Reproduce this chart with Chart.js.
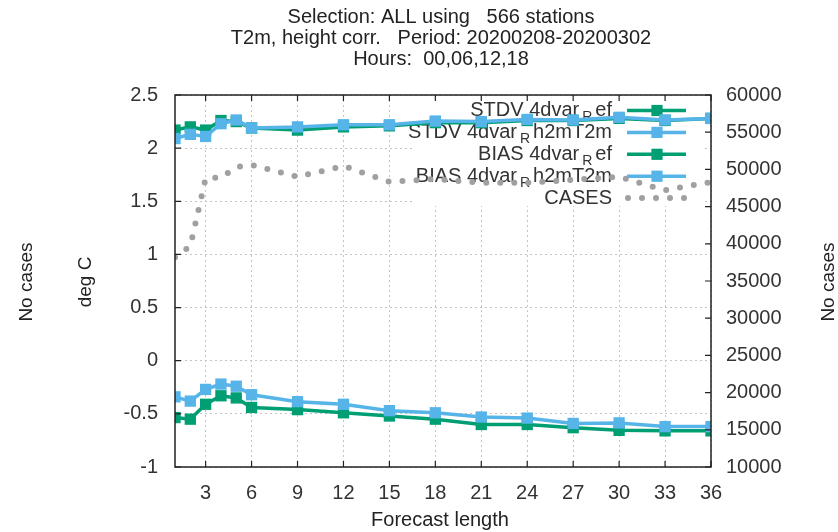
<!DOCTYPE html>
<html>
<head>
<meta charset="utf-8">
<title>T2m verification</title>
<script src="https://cdn.jsdelivr.net/npm/chart.js@4.4.1/dist/chart.umd.min.js"></script>
<style>
    html, body { margin: 0; padding: 0; background: #fff; }
    #chartBox { width: 838px; height: 532px; }
</style>
</head>
<body>
<div id="chartBox"><canvas id="verifChart" width="838" height="532"></canvas></div>
<script>
// Forecast lengths (hours) and the scores
const hours = [1, 2, 3, 4, 5, 6, 9, 12, 15, 18, 21, 24, 27, 30, 33, 36];
const stdvRef = [2.17, 2.20, 2.17, 2.26, 2.25, 2.19, 2.17, 2.20, 2.21, 2.24, 2.24, 2.26, 2.26, 2.28, 2.26, 2.28];
const stdvH2m = [2.09, 2.13, 2.11, 2.23, 2.265, 2.19, 2.20, 2.22, 2.22, 2.255, 2.25, 2.27, 2.265, 2.29, 2.265, 2.28];
const biasRef = [-0.535, -0.55, -0.41, -0.33, -0.35, -0.44, -0.46, -0.49, -0.52, -0.55, -0.60, -0.60, -0.63, -0.655, -0.66, -0.66];
const biasH2m = [-0.34, -0.38, -0.27, -0.22, -0.24, -0.32, -0.385, -0.41, -0.47, -0.49, -0.53, -0.54, -0.59, -0.585, -0.62, -0.62];
const cases = [38200, 39700, 48800, 48900, 50300, 50600, 49000, 50450, 48350, 48700, 48200, 48200, 48600, 49000, 47200, 48300];

const xTicks = [3, 6, 9, 12, 15, 18, 21, 24, 27, 30, 33, 36];
const yTicks = [-1, -0.5, 0, 0.5, 1, 1.5, 2, 2.5];
const y2Ticks = [10000, 15000, 20000, 25000, 30000, 35000, 40000, 45000, 50000, 55000, 60000];

const titleLines = ["Selection: ALL using   566 stations", "T2m, height corr.   Period: 20200208-20200302", "Hours:  00,06,12,18"];
// legend names: [before subscript, subscript, after subscript]
const legendNames = [
    ["STDV 4dvar", "R", "ef"],
    ["STDV 4dvar", "R", "h2mT2m"],
    ["BIAS 4dvar", "R", "ef"],
    ["BIAS 4dvar", "R", "h2mT2m"],
    ["CASES", "", ""]
];

const GREEN = "#009e73";
const BLUE = "#56b4e9";
const GREY = "#a0a0a0";
const FONT = "'Liberation Sans', Arial, sans-serif";

function pts( ys ) {
    return hours.map( ( h, i ) => ( { x: h, y: ys[i] } ) );
}

function lineSet( label, ys, color, order ) {
    return {
        label: label,
        data: pts( ys ),
        yAxisID: "y",
        borderColor: color,
        backgroundColor: color,
        borderWidth: 3.5,
        pointStyle: "rect",
        pointRadius: 8,
        pointBorderWidth: 0,
        tension: 0,
        order: order
    };
}

document.addEventListener( "DOMContentLoaded", function () {
    const canvas = document.getElementById( "verifChart" );
    const ctx = canvas.getContext( "2d" );

    // gnuplot-like decorations: key box, legend, frame, inward ticks, titles
    const gnuFrame = {
        id: "gnuFrame",
        beforeDatasetsDraw( chart ) {
            const c = chart.ctx;
            const area = chart.chartArea;
            c.save();
            c.fillStyle = "#fff";
            c.fillRect( 413, area.top + 6, area.right - 6 - 413, 105 );

            const colors = [GREEN, BLUE, GREEN, BLUE, GREY];
            legendNames.forEach( ( parts, i ) => {
                const y = 110.5 + i * 21.9;
                const textRight = 612;
                c.fillStyle = "#333";
                c.textBaseline = "middle";
                c.font = "20px " + FONT;
                const w0 = c.measureText( parts[0] ).width;
                const w2 = c.measureText( parts[2] ).width;
                c.font = "14px " + FONT;
                const w1 = parts[1] ? c.measureText( parts[1] ).width + 6 : 0;
                let x = textRight - w0 - w1 - w2;
                c.textAlign = "left";
                c.font = "20px " + FONT;
                c.fillText( parts[0], x, y );
                x += w0 + 3;
                if ( parts[1] ) {
                    c.font = "14px " + FONT;
                    c.fillText( parts[1], x, y + 7 );
                    x += w1 - 3;
                }
                c.font = "20px " + FONT;
                c.fillText( parts[2], x, y );

                if ( i < 4 ) {
                    c.strokeStyle = colors[i];
                    c.lineWidth = 3.5;
                    c.beginPath();
                    c.moveTo( 627, y );
                    c.lineTo( 686, y );
                    c.stroke();
                    c.fillStyle = colors[i];
                    c.fillRect( 657 - 5.6, y - 5.6, 11.2, 11.2 );
                } else {
                    c.fillStyle = GREY;
                    [628, 642, 656, 670, 684].forEach( px => {
                        c.beginPath();
                        c.arc( px, y, 3, 0, Math.PI * 2 );
                        c.fill();
                    } );
                }
            } );
            c.restore();
        },
        afterDraw( chart ) {
            const c = chart.ctx;
            const area = chart.chartArea;
            const xs = chart.scales.x;
            const ys = chart.scales.y;
            const y2s = chart.scales.y2;
            c.save();

            // frame
            c.strokeStyle = "#222";
            c.lineWidth = 1.5;
            c.strokeRect( area.left, area.top, area.right - area.left, area.bottom - area.top );

            // inward tick marks
            c.lineWidth = 1.2;
            c.beginPath();
            xTicks.forEach( v => {
                const px = xs.getPixelForValue( v );
                c.moveTo( px, area.bottom );
                c.lineTo( px, area.bottom - 6 );
                c.moveTo( px, area.top );
                c.lineTo( px, area.top + 6 );
            } );
            yTicks.forEach( v => {
                const py = ys.getPixelForValue( v );
                c.moveTo( area.left, py );
                c.lineTo( area.left + 6, py );
            } );
            y2Ticks.forEach( v => {
                const py = y2s.getPixelForValue( v );
                c.moveTo( area.right, py );
                c.lineTo( area.right - 6, py );
            } );
            c.stroke();

            // titles
            c.fillStyle = "#222";
            c.textAlign = "center";
            c.textBaseline = "middle";
            c.font = "20px " + FONT;
            const cx = ( area.left + area.right ) / 2;
            titleLines.forEach( ( t, i ) => c.fillText( t, cx - 2, 17 + i * 21 ) );
            c.fillText( "Forecast length", cx - 3, 520 );

            // axis titles (rotated)
            c.font = "19px " + FONT;
            [[27, "No cases"], [86, "deg C"], [829, "No cases"]].forEach( ( item ) => {
                c.save();
                c.translate( item[0], 282 );
                c.rotate( -Math.PI / 2 );
                c.fillText( item[1], 0, 0 );
                c.restore();
            } );
            c.restore();
        }
    };

    new Chart( ctx, {
        type: "line",
        data: {
            datasets: [
                lineSet( "STDV 4dvar_Ref", stdvRef, GREEN, 4 ),
                lineSet( "STDV 4dvar_Rh2mT2m", stdvH2m, BLUE, 2 ),
                lineSet( "BIAS 4dvar_Ref", biasRef, GREEN, 3 ),
                lineSet( "BIAS 4dvar_Rh2mT2m", biasH2m, BLUE, 1 ),
                {
                    label: "CASES",
                    data: pts( cases ),
                    yAxisID: "y2",
                    borderColor: GREY,
                    borderWidth: 6,
                    borderDash: [0, 14],
                    borderCapStyle: "round",
                    pointRadius: 0,
                    tension: 0,
                    order: 5
                }
            ]
        },
        options: {
            responsive: false,
            animation: false,
            layout: { padding: { top: 95, left: 0, right: 0, bottom: 0 } },
            plugins: {
                legend: { display: false },
                title: { display: false },
                tooltip: { enabled: false }
            },
            scales: {
                x: {
                    type: "linear",
                    min: 1,
                    max: 36,
                    afterBuildTicks: scale => { scale.ticks = xTicks.map( v => ( { value: v } ) ); },
                    afterFit: scale => { scale.height = 65; },
                    grid: { color: "#c4c4c4", drawTicks: false },
                    border: { display: false, dash: [2, 3] },
                    ticks: {
                        padding: 14,
                        color: "#333",
                        font: { family: FONT, size: 20 },
                        maxRotation: 0,
                        callback: v => String( v )
                    }
                },
                y: {
                    position: "left",
                    min: -1,
                    max: 2.5,
                    afterBuildTicks: scale => { scale.ticks = yTicks.map( v => ( { value: v } ) ); },
                    afterFit: scale => { scale.width = 175; },
                    grid: { color: "#c4c4c4", drawTicks: false },
                    border: { display: false, dash: [2, 3] },
                    ticks: {
                        padding: 17,
                        color: "#333",
                        font: { family: FONT, size: 20 },
                        callback: v => String( v )
                    }
                },
                y2: {
                    position: "right",
                    min: 10000,
                    max: 60000,
                    afterBuildTicks: scale => { scale.ticks = y2Ticks.map( v => ( { value: v } ) ); },
                    afterFit: scale => { scale.width = 127; },
                    grid: { display: false, drawTicks: false },
                    border: { display: false },
                    ticks: {
                        padding: 15,
                        color: "#333",
                        font: { family: FONT, size: 20 },
                        callback: v => String( v )
                    }
                }
            }
        },
        plugins: [gnuFrame]
    } );
} );
</script>
</body>
</html>
